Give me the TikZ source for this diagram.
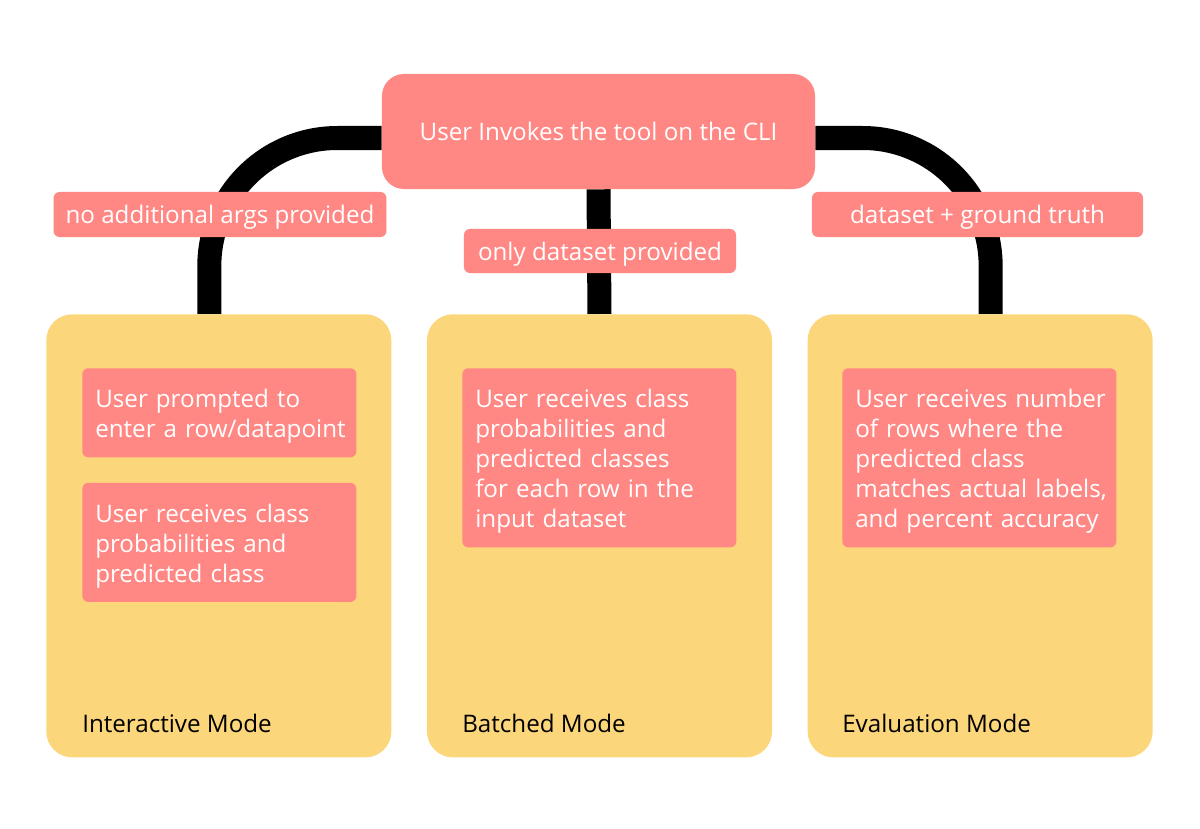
\documentclass[tikz,border=0pt]{standalone}
\usepackage{fontspec}
\setmainfont{Open Sans}
\usetikzlibrary{positioning,backgrounds}
\definecolor{salmon}{HTML}{FF8784}
\definecolor{mustard}{HTML}{FCD67A}

\begin{document}
\begin{tikzpicture}[
    x=0.025cm, y=-0.025cm,
    font=\fontsize{17.2}{21.3}\selectfont,
    node distance=0.875cm,
    clibox/.style={fill=salmon, text=white, rounded corners=0.55cm,
                   minimum width=10.825cm, minimum height=2.875cm},
    tag/.style={fill=salmon, text=white, rounded corners=0.15cm, text depth=0pt,
                minimum height=1.125cm, inner xsep=0.3cm},
    modebox/.style={fill=mustard, rounded corners=0.65cm, minimum width=8.625cm,
                    minimum height=11.075cm, anchor=north west},
    card/.style={fill=salmon, text=white, rounded corners=0.15cm, text width=6.45cm,
                 align=left, inner xsep=0.2cm, inner ysep=0.3cm, anchor=north west,
                 execute at begin node={\leftskip=0.125cm\hyphenpenalty=10000\rule{0pt}{18pt}}},
    modename/.style={anchor=west, inner sep=0pt},
    conn/.style={line width=0.6cm, black}
  ]
  \useasboundingbox (0,0) rectangle (1200,828);

  % the three modes
  \node[modebox] (interactive) at (46,314) {};
  \node[modebox, right=of interactive] (batched) {};
  \node[modebox, right=of batched] (evaluation) {};

  \node[clibox] (cli) at (598.5,131.5) {User Invokes the tool on the CLI};

  % connectors
  \begin{scope}[on background layer]
    \draw[conn, rounded corners=3.2cm] ([yshift=-0.1625cm]cli.west) -| ([xshift=-0.2375cm]interactive.north);
    \draw[conn] (cli.south) -- (batched.north);
    \draw[conn, rounded corners=3.2cm] ([yshift=-0.1625cm]cli.east) -| ([xshift=0.2625cm]evaluation.north);
  \end{scope}

  \node[tag, minimum width=8.3cm] (noargs) at (220,214.5) {no additional args provided};
  \node[tag, minimum width=6.8cm, minimum height=1.1cm] (onlydata) at (600,251) {only dataset provided};
  \node[tag, minimum width=8.275cm] (groundtruth) at (977.5,214.5) {dataset + ground truth};

  % cards inside the modes
  \node[card, minimum height=2.225cm] (prompt) at (82,368) {User prompted to\\enter a row/datapoint};
  \node[card, minimum height=2.975cm, below=0.625cm of prompt] (recvone) {User receives class\\probabilities and\\predicted class};
  \node[card, minimum height=4.475cm] (recvbatch) at (462,368) {User receives class\\probabilities and\\predicted classes\\for each row in the\\input dataset};
  \node[card, minimum height=4.475cm] (recveval) at (842,368) {User receives number\\of rows where the\\predicted class\\matches actual labels,\\and percent accuracy};

  \node[modename] (intname) at (82,723) {Interactive Mode};
  \node[modename] (batname) at (462,723) {Batched Mode};
  \node[modename] (evalname) at (842,723) {Evaluation Mode};
\end{tikzpicture}
\end{document}
